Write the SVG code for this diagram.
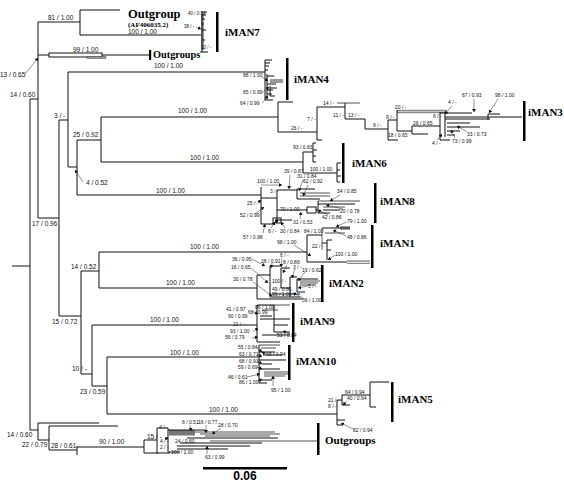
<svg xmlns="http://www.w3.org/2000/svg" width="564" height="483" viewBox="0 0 564 483">
<defs>
<style>
.b{stroke:#111;stroke-width:1;fill:none}
.g{stroke:#8a8a8a;stroke-width:1.3;fill:none}
.a{stroke:#222;stroke-width:0.5;fill:none;marker-end:url(#ah)}
.lb{font-family:"Liberation Sans",Arial,sans-serif;font-size:6.5px;fill:#111}
.sm{font-size:5px}
.xs{font-size:4.5px}
.cl{font-family:"Liberation Serif","Times New Roman",serif;font-weight:bold;font-size:11px;fill:#000}
.bar{fill:#000}
</style>
<marker id="ah" markerWidth="4" markerHeight="4" refX="3" refY="2" orient="auto" markerUnits="userSpaceOnUse"><path d="M0,0 L3,2 L0,4z" fill="#111"/></marker>
</defs>
<rect width="564" height="483" fill="#fff"/>
<g id="connectors">
<path class="b" d="M12,266H30 M30,99V430 M30,99H38 M38,22V218 M38,22H80 M80,10V35 M80,10H120 M80,35H202 M38,55H49 M102,55H150 M38,218H59 M59,120V316 M59,120H68 M68,72V167 M68,72H265 M68,167H77 M77,140V195 M77,140H101 M101,117V162 M101,117H278 M101,162H303 M77,195H261 M59,316H81 M81,271V374 M81,271H99 M99,252V288 M99,252H307 M99,288H257 M81,374H92 M92,325V386 M92,325H257 M92,386H107 M107,357V414 M107,357H259 M107,414H337 M30,430H38 M38,423V440 M38,423H99 M38,440H49 M49,426V450 M49,426H118 M49,450H77 M77,446V455 M77,447H144 M144,440V453 M144,440H157 M144,453H158"/>
<rect class="b" x="49" y="53" width="53" height="4"/>
<rect x="87" y="56.5" width="19" height="2" fill="#999" stroke="#333" stroke-width="0.4"/>
<!-- iMAN7 -->
<rect x="201" y="14" width="3" height="36" fill="#999"/>
<path class="b" d="M202,12V52 M202,12H207 M202,15H206 M202,19H205 M202,24H204 M202,30H206 M202,40H205 M200,52H208"/>
<!-- iMAN4 -->
<rect x="270" y="79" width="13" height="4" fill="#999"/>
<path class="b" d="M265,60V100 M265,60H272 M265,63H270 M265,66H269 M265,70H268 M267,74V98 M267,76H274 M267,84H276 M267,90H273 M267,94H272 M265,100H273 M270,86V96 M270,88H277 M270,96H275"/>
<!-- iMAN3 -->
<path class="g" d="M397,110.5H447 M397,112.5H447 M337,103H360"/>
<path class="b" d="M278,102V132 M278,102H293 M278,132H317 M317,107V140 M317,140H322 M317,107H345 M345,103V119 M345,119H365 M365,119V129 M365,129H388 M388,120V140 M388,140H398 M388,120H397 M397,110V131 M397,131H412 M412,126V134 M412,126H440 M412,134H428 M440,112V140 M440,140H450 M440,113H472 M445,112V137 M445,117H488 M445,119H490 M447,123H470 M447,127H480 M447,131H460 M447,135H455 M488,114V120 M488,117H522 M488,114H500"/>
<!-- iMAN6 -->
<path class="b" d="M303,152V173 M303,152H313 M313,143V162 M313,143H316 M313,150H317 M313,156H316 M313,162H316 M303,173H337 M337,163V182 M337,163H341 M337,170H340 M337,176H341 M337,182H340"/>
<!-- iMAN8 -->
<path class="g" d="M300,193H330 M300,196H330 M318,201H360 M323,207H345"/>
<path class="b" d="M261,187V224 M261,198H277 M277,190V220 M277,190H297 M297,189V199 M297,189H315 M297,199H320 M277,210H307 M316,210H318 M318,201V213 M318,204H355 M323,210H340 M318,213H330 M277,220H292 M261,224H275"/>
<line class="a" x1="261" y1="185" x2="282" y2="185"/>
<rect class="b" x="307" y="207" width="9" height="6"/>
<rect class="b" x="273" y="218" width="8" height="5"/>
<rect x="275" y="219.5" width="3" height="3" fill="#111"/>
<!-- iMAN1 -->
<rect x="340" y="226" width="10" height="4" fill="#999"/>
<path class="g" d="M322,228V250 M325,233H345 M347,261H370 M347,263.3H370"/>
<path class="b" d="M307,235V262 M307,235H322 M322,228H350 M322,243H327 M327,240V260 M327,240H332 M327,250H331 M307,262H347"/>
<!-- iMAN2 -->
<path class="g" d="M300,281H320 M300,283H318 M300,285H316"/>
<path class="b" d="M257,275V299 M257,275H270 M270,266V297 M270,266H281 M281,268V288 M281,268H290 M281,288H290 M290,277V297 M290,277H297 M297,279V292 M297,279H318 M297,292H305 M290,297H300 M270,297H290 M257,299H302 M272,294H300"/>
<!-- iMAN9 -->
<path class="g" d="M274,305H290 M262,310H278"/>
<path class="b" d="M257,305V342 M257,305H274 M274,305V332 M260,316H272 M260,319H290 M274,325H288 M274,332H290 M262,335H290 M257,342H280"/>
<!-- iMAN10 -->
<path class="g" d="M259,345H280 M261,348H276 M264,372H290 M264,374H288 M264,376H285"/>
<path class="b" d="M259,345V383 M259,352H275 M263,355H282 M259,360H286 M262,364H272 M259,369H280 M259,380H272 M259,383H267"/>
<!-- iMAN5 -->
<path class="b" d="M337,400V425 M337,400H342 M342,395V405 M342,395H370 M370,382V407 M370,382H389 M370,407H376 M342,405H350 M337,420H345 M337,425H342"/>
<!-- bottom outgroups -->
<rect x="169" y="430" width="26" height="5.5" fill="#777"/>
<path class="g" d="M195,432H275 M200,434H280 M205,436H270 M210,441H317"/>
<path class="b" d="M157,428V453 M157,428H168 M168,428V452 M168,430H205 M187,438H278 M180,443H262 M177,446H250 M177,449H228 M157,453H170 M168,452H180"/>
<!-- arrows -->
<line class="a" x1="25" y1="74" x2="38" y2="58"/>
<line class="a" x1="83" y1="182" x2="75" y2="170"/>
<line class="a" x1="196" y1="27" x2="201" y2="29"/>
<line class="a" x1="262" y1="77" x2="268" y2="81"/>
<line class="a" x1="263" y1="92" x2="269" y2="87"/>
<line class="a" x1="262" y1="103" x2="268" y2="96"/>
<line class="a" x1="452" y1="106" x2="445" y2="114"/>
<line class="a" x1="437" y1="140" x2="442" y2="134"/>
<line class="a" x1="455" y1="138" x2="451" y2="130"/>
<line class="a" x1="467" y1="132" x2="457" y2="126"/>
<line class="a" x1="474" y1="99" x2="474" y2="112"/>
<line class="a" x1="498" y1="99" x2="489" y2="113"/>
<line class="a" x1="290" y1="175" x2="289" y2="189"/>
<line class="a" x1="303" y1="180" x2="299" y2="191"/>
<line class="a" x1="308" y1="185" x2="303" y2="196"/>
<line class="a" x1="340" y1="195" x2="330" y2="201"/>
<line class="a" x1="258" y1="203" x2="261" y2="200"/>
<line class="a" x1="255" y1="214" x2="264" y2="207"/>
<line class="a" x1="343" y1="209" x2="326" y2="205"/>
<line class="a" x1="328" y1="215" x2="318" y2="210"/>
<line class="a" x1="300" y1="219" x2="301" y2="212"/>
<line class="a" x1="285" y1="228" x2="281" y2="222"/>
<line class="a" x1="271" y1="228" x2="275" y2="222"/>
<line class="a" x1="263" y1="233" x2="265" y2="224"/>
<line class="a" x1="346" y1="222" x2="336" y2="227"/>
<line class="a" x1="346" y1="236" x2="333" y2="230"/>
<line class="a" x1="294" y1="245" x2="311" y2="256"/>
<line class="a" x1="335" y1="255" x2="328" y2="260"/>
<line class="a" x1="252" y1="259" x2="265" y2="266"/>
<line class="a" x1="251" y1="268" x2="268" y2="283"/>
<line class="a" x1="253" y1="282" x2="272" y2="296"/>
<line class="a" x1="272" y1="263" x2="271" y2="268"/>
<line class="a" x1="282" y1="258" x2="281" y2="267"/>
<line class="a" x1="287" y1="265" x2="283" y2="273"/>
<line class="a" x1="295" y1="269" x2="292" y2="278"/>
<line class="a" x1="305" y1="272" x2="298" y2="281"/>
<line class="a" x1="308" y1="286" x2="298" y2="288"/>
<line class="a" x1="303" y1="298" x2="293" y2="293"/>
<line class="a" x1="251" y1="311" x2="258" y2="314"/>
<line class="a" x1="290" y1="334" x2="283" y2="331"/>
<line class="a" x1="253" y1="332" x2="258" y2="328"/>
<line class="a" x1="252" y1="338" x2="258" y2="337"/>
<line class="a" x1="257" y1="348" x2="262" y2="352"/>
<line class="a" x1="257" y1="354" x2="262" y2="357"/>
<line class="a" x1="266" y1="354" x2="262" y2="352"/>
<line class="a" x1="257" y1="361" x2="262" y2="364"/>
<line class="a" x1="257" y1="367" x2="262" y2="369"/>
<line class="a" x1="247" y1="377" x2="260" y2="374"/>
<line class="a" x1="258" y1="381" x2="262" y2="379"/>
<line class="a" x1="273" y1="386" x2="273" y2="376"/>
<line class="a" x1="347" y1="401" x2="343" y2="405"/>
<line class="a" x1="353" y1="429" x2="341" y2="423"/>
<line class="a" x1="190" y1="425" x2="191" y2="431"/>
<line class="a" x1="206" y1="425" x2="206" y2="433"/>
<line class="a" x1="221" y1="428" x2="212" y2="434"/>
<line class="a" x1="165" y1="440" x2="168" y2="437"/>
<line class="a" x1="207" y1="454" x2="207" y2="446"/>
</g>
<g id="labels-backbone" class="lb">
<text x="48" y="20">81 / 1.00</text>
<text x="128" y="34">100 / 1.00</text>
<text x="73" y="52">99 / 1.00</text>
<text x="0" y="77">13 / 0.65</text>
<text x="10" y="97">14 / 0.60</text>
<text x="154" y="68">100 / 1.00</text>
<text x="54" y="118">3 / -</text>
<text x="73" y="137">25 / 0.92</text>
<text x="178" y="113">100 / 1.00</text>
<text x="86" y="185">4 / 0.52</text>
<text x="190" y="160">100 / 1.00</text>
<text x="156" y="193">100 / 1.00</text>
<text x="32" y="226">17 / 0.96</text>
<text x="190" y="249">100 / 1.00</text>
<text x="71" y="269">14 / 0.52</text>
<text x="166" y="285">100 / 1.00</text>
<text x="52" y="324">15 / 0.72</text>
<text x="150" y="322">100 / 1.00</text>
<text x="72" y="371">10 / -</text>
<text x="170" y="355">100 / 1.00</text>
<text x="80" y="394">23 / 0.59</text>
<text x="209" y="412">100 / 1.00</text>
<text x="7" y="437">14 / 0.60</text>
<text x="22" y="447">22 / 0.79</text>
<text x="51" y="448">28 / 0.61</text>
<text x="99" y="444">90 / 1.00</text>
<text x="147" y="439">15 / -</text>
</g>
<g id="labels-inner" class="lb sm">
<text class="xs" x="188" y="15">40 / 0.54</text>
<text class="xs" x="184" y="28">38 / -</text>
<text class="xs" x="201" y="49">10 / -</text>
<text x="243" y="77">88 / 1.00</text>
<text x="243" y="94">65 / 0.99</text>
<text x="240" y="105">64 / 0.99</text>
<text x="323" y="105">14 / -</text>
<text x="307" y="121">7 / -</text>
<text x="291" y="130">26 / -</text>
<text x="333" y="117">11 / -</text>
<text x="348" y="117">13 / -</text>
<text x="373" y="127">9 / -</text>
<text x="386" y="119">9 / -</text>
<text x="395" y="109">20 / -</text>
<text x="388" y="137">18 / 0.65</text>
<text x="413" y="125">26 / 0.65</text>
<text x="433" y="118">6 / -</text>
<text x="448" y="104">4 / -</text>
<text x="432" y="145">4 / -</text>
<text x="452" y="143">73 / 0.99</text>
<text x="467" y="136">33 / 0.73</text>
<text x="462" y="97">67 / 0.93</text>
<text x="495" y="97">98 / 1.00</text>
<text x="293" y="149">93 / 0.83</text>
<text x="310" y="171">100 / 1.00</text>
<text x="257" y="183">100 / 1.00</text>
<text x="270" y="193">3 / -</text>
<text x="284" y="173">39 / 0.87</text>
<text x="297" y="178">31 / 0.84</text>
<text x="303" y="183">62 / 0.92</text>
<text x="337" y="193">34 / 0.85</text>
<text x="247" y="205">25 / -</text>
<text x="240" y="217">52 / 0.99</text>
<text x="280" y="211">70 / 1.00</text>
<text x="340" y="213">20 / 0.78</text>
<text x="322" y="219">42 / 0.86</text>
<text x="293" y="224">31 / 0.53</text>
<text x="280" y="233">30 / 0.84</text>
<text x="268" y="233">6 / -</text>
<text x="243" y="239">57 / 0.98</text>
<text x="347" y="223">79 / 1.00</text>
<text x="347" y="239">48 / 0.86</text>
<text x="304" y="233">84 / 1.00</text>
<text x="277" y="244">98 / 1.00</text>
<text x="312" y="248">22 / -</text>
<text x="335" y="256">100 / 1.00</text>
<text x="232" y="261">36 / 0.95</text>
<text x="231" y="269">16 / 0.65</text>
<text x="233" y="281">30 / 0.78</text>
<text x="261" y="262.5">28 / 0.91</text>
<text x="280" y="256.5">6 / -</text>
<text x="283" y="263.5">8 / 0.86</text>
<text x="293" y="269">3 / -</text>
<text x="302" y="272">19 / 0.62</text>
<text x="272" y="283">100 / -</text>
<text x="308" y="288">5 / -</text>
<text x="272" y="290.5">49 / 0.86</text>
<text x="272" y="296">95 / 1.00</text>
<text x="302" y="301.5">56 / 1.00</text>
<text x="255" y="308.5">86 / 1.00</text>
<text x="248" y="314">60 / 0.99</text>
<text x="226" y="311">41 / 0.97</text>
<text x="228" y="318">90 / 0.99</text>
<text x="233" y="326">21 / -</text>
<text x="230" y="333">93 / 1.00</text>
<text x="225" y="339">56 / 0.79</text>
<text x="277" y="337">53 / 0.84</text>
<text x="238" y="349">55 / 0.84</text>
<text x="239" y="356">63 / 0.71</text>
<text x="266" y="356">68 / 0.94</text>
<text x="239" y="362.5">68 / 0.93</text>
<text x="238" y="368.5">59 / 0.69</text>
<text x="228" y="378.5">46 / 0.61</text>
<text x="239" y="383.5">86 / 1.00</text>
<text x="271" y="392">95 / 1.00</text>
<text x="328" y="402">21 / -</text>
<text x="328" y="408">8 / -</text>
<text x="345" y="394">64 / 0.94</text>
<text x="347" y="400">40 / 0.64</text>
<text x="353" y="432">82 / 0.94</text>
<text x="159" y="429">4 / -</text>
<text x="182" y="424">8 / 0.51</text>
<text x="198" y="424">16 / 0.77</text>
<text x="218" y="427">28 / 0.70</text>
<text x="160" y="443">4 / -</text>
<text x="160" y="448.5">2 / -</text>
<text x="175" y="443">24 / 0.60</text>
<text x="171" y="454">100 / 1.00</text>
<text x="205" y="459">63 / 0.99</text>
</g>
<g id="outgroup-top"><text class="cl" x="128" y="18" style="font-size:12.5px">Outgroup</text><text class="cl" x="128" y="26.8" style="font-size:7px">(AF406035.2)</text></g>
<g id="outgroups-mid"><rect class="bar" x="149" y="50" width="2.2" height="10"/><text class="cl" x="153" y="58" style="font-size:10.3px">Outgroups</text></g>
<g id="iMAN7"><rect class="bar" x="216" y="12" width="2.5" height="40"/><text class="cl" x="225" y="36">iMAN7</text></g>
<g id="iMAN4"><rect class="bar" x="286" y="58" width="2.5" height="42"/><text class="cl" x="294" y="83">iMAN4</text></g>
<g id="iMAN3"><rect class="bar" x="523" y="101" width="2.5" height="40"/><text class="cl" x="528" y="116">iMAN3</text></g>
<g id="iMAN6"><rect class="bar" x="342" y="143" width="2.5" height="40"/><text class="cl" x="352" y="167">iMAN6</text></g>
<g id="iMAN8"><rect class="bar" x="374" y="183" width="2.5" height="40"/><text class="cl" x="380" y="205">iMAN8</text></g>
<g id="iMAN1"><rect class="bar" x="371" y="225" width="2.5" height="43"/><text class="cl" x="380" y="247">iMAN1</text></g>
<g id="iMAN2"><rect class="bar" x="321" y="265" width="2.5" height="37"/><text class="cl" x="329" y="287">iMAN2</text></g>
<g id="iMAN9"><rect class="bar" x="292" y="303" width="2.5" height="39"/><text class="cl" x="300" y="325">iMAN9</text></g>
<g id="iMAN10"><rect class="bar" x="288" y="345" width="2.5" height="35"/><text class="cl" x="296" y="365">iMAN10</text></g>
<g id="iMAN5"><rect class="bar" x="391" y="382" width="2.5" height="40"/><text class="cl" x="398" y="403">iMAN5</text></g>
<g id="outgroups-bottom"><rect class="bar" x="317" y="423" width="2.5" height="32"/><text class="cl" x="325" y="444">Outgroups</text></g>
<g id="scale"><rect x="203" y="467" width="84" height="2.5" fill="#000"/><text x="245" y="480" text-anchor="middle" style="font-family:'Liberation Sans',Arial,sans-serif;font-weight:bold;font-size:12px">0.06</text></g>
</svg>
